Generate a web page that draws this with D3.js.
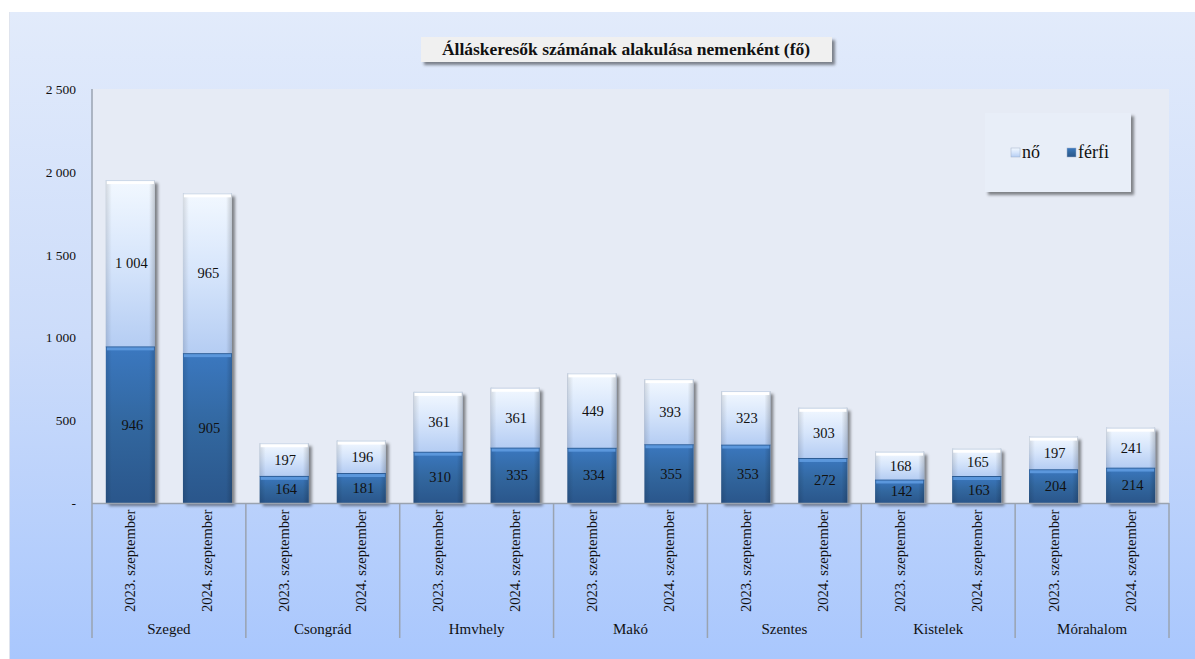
<!DOCTYPE html>
<html>
<head>
<meta charset="utf-8">
<script src="https://cdn.jsdelivr.net/npm/d3@7"></script>
<style>
  body { margin: 0; background: #fff; }
  svg { display: block; font-family: "Liberation Serif", "Times New Roman", serif; }
</style>
</head>
<body>
<svg width="1195" height="659"></svg>
<script>
var groups = ["Szeged", "Csongrád", "Hmvhely", "Makó", "Szentes", "Kistelek", "Mórahalom"];
var periods = ["2023. szeptember", "2024. szeptember"];
// férfi values, two per group (2023, 2024)
var ferfi = [946, 905, 164, 181, 310, 335, 334, 355, 353, 272, 142, 163, 204, 214];
// nő values, two per group
var no = [1004, 965, 197, 196, 361, 361, 449, 393, 323, 303, 168, 165, 197, 241];
var yTicks = [0, 500, 1000, 1500, 2000, 2500];

var svg = d3.select("svg"),
    width = +svg.attr("width"),
    height = +svg.attr("height");

var plot = {left: 92, right: 1169, top: 89, bottom: 503};

var defs = svg.append("defs");

function linGrad(id, x2, y2, stops) {
    var g = defs.append("linearGradient").attr("id", id)
        .attr("x1", 0).attr("y1", 0).attr("x2", x2).attr("y2", y2);
    stops.forEach(function (s) {
        g.append("stop").attr("offset", s[0]).attr("stop-color", s[1]);
    });
}

linGrad("bgGrad", 0, 1, [[0, "#e2ebfb"], [0.5, "#ccdcfa"], [1, "#a9c7fd"]]);
linGrad("noGrad", 0, 1, [[0, "#f2f8ff"], [0.5, "#d6e5fb"], [1, "#b5cdf3"]]);
linGrad("ferfiGrad", 0, 1, [[0, "#3b78c0"], [0.5, "#32679f"], [1, "#2a568b"]]);
linGrad("sideGrad", 1, 0, [[0, "rgba(0,0,0,0.12)"], [0.12, "rgba(0,0,0,0)"], [0.88, "rgba(0,0,0,0)"], [1, "rgba(0,0,0,0.18)"]]);

var shadow = defs.append("filter").attr("id", "shadow")
    .attr("x", "-10%").attr("y", "-10%").attr("width", "130%").attr("height", "140%");
shadow.append("feDropShadow").attr("dx", 3).attr("dy", 3).attr("stdDeviation", 1.5)
    .attr("flood-color", "#000").attr("flood-opacity", 0.45);

// outer background
svg.append("rect").attr("x", 9).attr("y", 12).attr("width", width - 9).attr("height", height - 12)
    .attr("fill", "url(#bgGrad)");
svg.append("line").attr("x1", 9.5).attr("x2", 9.5).attr("y1", 12).attr("y2", height)
    .attr("stroke", "#dfe4ee");

// plot area
svg.append("rect").attr("x", plot.left).attr("y", plot.top)
    .attr("width", plot.right - plot.left).attr("height", plot.bottom - plot.top)
    .attr("fill", "#e6ebf5");

var x0 = d3.scaleBand().domain(groups).range([plot.left, plot.right]).padding(0);
var x1 = d3.scaleBand().domain(periods).range([0, x0.bandwidth()])
    .paddingInner(0.364).paddingOuter(0.18);
var y = d3.scaleLinear().domain([0, 2500]).range([plot.bottom, plot.top]);

// y axis labels
var fmt = function (v) {
    if (v === 0) return "-";
    return d3.format(",")(v).replace(/,/g, " ");
};
svg.append("g").selectAll("text").data(yTicks).enter().append("text")
    .attr("x", 76).attr("y", function (d) { return y(d) + 5; })
    .attr("text-anchor", "end").attr("font-size", 13.5).attr("fill", "#111")
    .text(fmt);

// build bar data
var bars = [];
groups.forEach(function (g, gi) {
    periods.forEach(function (p, pi) {
        var i = gi * 2 + pi;
        bars.push({group: g, period: p, ferfi: ferfi[i], no: no[i]});
    });
});

function barX(d) { return x0(d.group) + x1(d.period); }
var bw = x1.bandwidth();

var barG = svg.append("g").selectAll("g").data(bars).enter().append("g");

// shadow base
barG.append("rect")
    .attr("x", barX).attr("width", bw)
    .attr("y", function (d) { return y(d.ferfi + d.no); })
    .attr("height", function (d) { return y(0) - y(d.ferfi + d.no); })
    .attr("fill", "#8a9bb5").attr("filter", "url(#shadow)");

function segment(sel, key, base, fill, top, edge) {
    sel.append("rect")
        .attr("x", barX).attr("width", bw)
        .attr("y", function (d) { return y(base(d) + d[key]); })
        .attr("height", function (d) { return y(base(d)) - y(base(d) + d[key]); })
        .attr("fill", fill);
    sel.append("rect")
        .attr("x", barX).attr("width", bw)
        .attr("y", function (d) { return y(base(d) + d[key]); })
        .attr("height", function (d) { return y(base(d)) - y(base(d) + d[key]); })
        .attr("fill", "url(#sideGrad)");
    // bevel highlight on top edge
    sel.append("rect")
        .attr("x", function (d) { return barX(d) + 1; }).attr("width", bw - 2)
        .attr("y", function (d) { return y(base(d) + d[key]); })
        .attr("height", 4)
        .attr("fill", top);
    sel.append("line")
        .attr("x1", barX).attr("x2", function (d) { return barX(d) + bw; })
        .attr("y1", function (d) { return y(base(d) + d[key]) + 0.5; })
        .attr("y2", function (d) { return y(base(d) + d[key]) + 0.5; })
        .attr("stroke", edge);
}

segment(barG, "ferfi", function () { return 0; }, "url(#ferfiGrad)", "#5b97dc", "#2b5a92");
segment(barG, "no", function (d) { return d.ferfi; }, "url(#noGrad)", "#ffffff", "#c9d6e8");

// value labels
barG.append("text")
    .attr("x", function (d) { return barX(d) + bw / 2 + 2; })
    .attr("y", function (d) { return y(d.ferfi / 2) + 5; })
    .attr("text-anchor", "middle").attr("font-size", 14.5).attr("fill", "#111")
    .text(function (d) { return fmt(d.ferfi); });
barG.append("text")
    .attr("x", function (d) { return barX(d) + bw / 2 + 1; })
    .attr("y", function (d) { return y(d.ferfi + d.no / 2) + 5; })
    .attr("text-anchor", "middle").attr("font-size", 14.5).attr("fill", "#111")
    .text(function (d) { return fmt(d.no); });

// axes lines
var axisColor = "#9aa3b0";
svg.append("line").attr("x1", plot.left).attr("x2", plot.left)
    .attr("y1", plot.top).attr("y2", 638).attr("stroke", axisColor).attr("stroke-width", 1.5);
svg.append("line").attr("x1", plot.left).attr("x2", plot.right)
    .attr("y1", plot.bottom + 0.5).attr("y2", plot.bottom + 0.5)
    .attr("stroke", axisColor).attr("stroke-width", 1.5);
svg.append("g").selectAll("line").data(groups).enter().append("line")
    .attr("x1", function (d) { return x0(d) + x0.bandwidth(); })
    .attr("x2", function (d) { return x0(d) + x0.bandwidth(); })
    .attr("y1", plot.bottom).attr("y2", 638)
    .attr("stroke", axisColor).attr("stroke-width", 1.5);

// rotated period labels
svg.append("g").selectAll("text").data(bars).enter().append("text")
    .attr("transform", function (d) {
        return "translate(" + (barX(d) + bw / 2 + 5) + ",612) rotate(-90)";
    })
    .attr("font-size", 14.5).attr("fill", "#111")
    .text(function (d) { return d.period; });

// group labels
svg.append("g").selectAll("text").data(groups).enter().append("text")
    .attr("x", function (d) { return x0(d) + x0.bandwidth() / 2; })
    .attr("y", 634).attr("text-anchor", "middle")
    .attr("font-size", 15).attr("fill", "#111")
    .text(function (d) { return d; });

// title
svg.append("rect").attr("x", 421).attr("y", 37).attr("width", 411).attr("height", 25)
    .attr("fill", "#f0f0f0").attr("filter", "url(#shadow)");
svg.append("text").attr("x", 626).attr("y", 55).attr("text-anchor", "middle")
    .attr("font-size", 17.5).attr("font-weight", "bold").attr("fill", "#111")
    .text("Álláskeresők számának alakulása nemenként (fő)");

// legend
var legend = svg.append("g");
legend.append("rect").attr("x", 985).attr("y", 113).attr("width", 146).attr("height", 79)
    .attr("fill", "#e8eef8").attr("filter", "url(#shadow)");
var legItems = [
    {label: "nő", fill: "url(#noGrad)", x: 1011},
    {label: "férfi", fill: "url(#ferfiGrad)", x: 1067}
];
legItems.forEach(function (it) {
    legend.append("rect").attr("x", it.x).attr("y", 148).attr("width", 9).attr("height", 9)
        .attr("fill", it.fill).attr("stroke", "#9fb0c8").attr("stroke-width", 0.5);
    legend.append("text").attr("x", it.x + 11).attr("y", 158)
        .attr("font-size", 18).attr("fill", "#111").text(it.label);
});
</script>
</body>
</html>
